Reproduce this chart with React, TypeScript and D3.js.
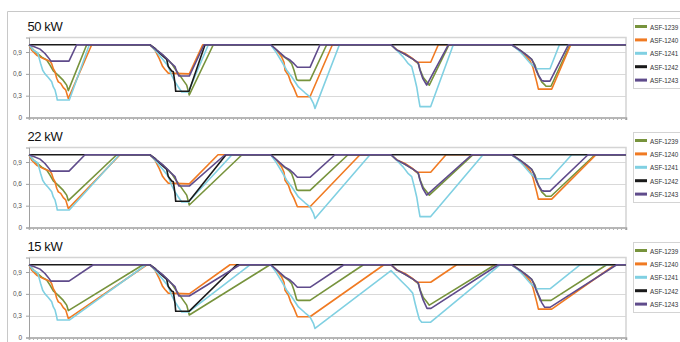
import React, { useRef, useEffect } from "react";
import * as d3 from "d3";

const seriesNames = ["ASF-1239", "ASF-1240", "ASF-1241", "ASF-1242", "ASF-1243"];
const seriesColors = ["#77933c", "#f07a22", "#80d0e2", "#1a1a1a", "#5f4b8b"];
const panelTitles = ["50 kW", "22 kW", "15 kW"];
const yTicks = [0, 0.3, 0.6, 0.9];
const cycleStarts = [0, 121, 241.7, 362, 482.7];
const timeEnd = 597;

// discharge profiles [dt, soc] per cycle (same for all three charger powers)
const dis1239 = [
  [[0, 1], [4.3, 0.93], [12.7, 0.83], [17.7, 0.79], [21, 0.72], [24.3, 0.64], [29.3, 0.58], [34.3, 0.51], [37.7, 0.445], [39.3, 0.37]],
  [[0, 1], [6.7, 0.925], [15, 0.83], [21.7, 0.74], [25, 0.67], [28.3, 0.61], [33.3, 0.51], [36.7, 0.445], [39.3, 0.31]],
  [[0, 1], [6, 0.925], [12.7, 0.84], [17.7, 0.79], [21, 0.74], [23.3, 0.65], [26, 0.52], [27.7, 0.51], [39.3, 0.51]],
  [[0, 1], [5.7, 0.93], [14, 0.87], [22.3, 0.8], [27.3, 0.74], [29, 0.66], [32.3, 0.55], [35.7, 0.49], [38.3, 0.445]],
  [[0, 1], [8.3, 0.925], [15, 0.856], [20, 0.8], [23.3, 0.72], [26.7, 0.58], [30, 0.49], [33.3, 0.445], [34.3, 0.43], [39.3, 0.43]],
];
const dis1240 = [
  [[0, 1], [2.7, 0.925], [7.7, 0.856], [14.3, 0.81], [21, 0.775], [22.7, 0.74], [24.3, 0.67], [26, 0.63], [27.7, 0.54], [29.3, 0.49], [31.7, 0.47], [34.3, 0.41], [36.7, 0.38], [39.3, 0.26]],
  [[0, 1], [5, 0.925], [9.3, 0.81], [12.7, 0.7], [15, 0.66], [18.3, 0.61], [39.3, 0.6]],
  [[0, 1], [6, 0.925], [11, 0.83], [13.3, 0.76], [14.3, 0.65], [17.7, 0.58], [20, 0.49], [23.3, 0.4], [26.7, 0.285], [39.3, 0.285]],
  [[0, 1], [5.7, 0.93], [14, 0.88], [20.7, 0.82], [25.7, 0.76], [39.7, 0.76]],
  [[0, 1], [8.3, 0.92], [14.3, 0.84], [18.3, 0.78], [21, 0.7], [22.7, 0.61], [25, 0.49], [26.7, 0.39], [40, 0.39]],
];
const dis1241 = [
  [[0, 1], [4.3, 0.925], [8.7, 0.89], [10.3, 0.81], [11.7, 0.74], [13.7, 0.65], [16, 0.6], [19.3, 0.55], [22.7, 0.49], [24.3, 0.42], [26, 0.38], [27.7, 0.285], [28.3, 0.24], [40.3, 0.24]],
  [[0, 1], [6.7, 0.9], [13.3, 0.79], [18.3, 0.7], [21.7, 0.58], [25, 0.49], [28.3, 0.42], [31.7, 0.35], [38.3, 0.35]],
  [[0, 1], [5.3, 0.9], [11, 0.77], [16, 0.65], [21, 0.56], [27.7, 0.42], [34.3, 0.34], [39.3, 0.285], [42.7, 0.195], [44.3, 0.125]],
  [[0, 1], [5.7, 0.925], [12.3, 0.83], [17.3, 0.74], [20.7, 0.7], [23.3, 0.56], [25.7, 0.42], [27.3, 0.285], [29, 0.15], [39.7, 0.15]],
  [[0, 1], [6.7, 0.925], [11.7, 0.856], [15.7, 0.79], [19, 0.74], [22.3, 0.7], [25, 0.67], [38.3, 0.67]],
];
const dis1242 = [
  null,
  [[0, 1], [5, 0.95], [6.7, 0.925], [13.3, 0.84], [16.7, 0.8], [18.3, 0.7], [21.7, 0.64], [23.3, 0.63], [25, 0.47], [25.7, 0.36], [39, 0.36]],
  null,
  null,
  null,
];
const dis1243 = [
  [[0, 1], [4, 0.98], [11, 0.94], [16, 0.88], [19, 0.83], [22, 0.775], [40, 0.775]],
  [[0, 1], [6.7, 0.925], [13.3, 0.856], [18.3, 0.79], [21.7, 0.74], [25, 0.7], [26.7, 0.63], [29, 0.57], [39.3, 0.57]],
  [[0, 1], [4.3, 0.95], [9.3, 0.89], [14.3, 0.83], [19.3, 0.79], [23.3, 0.74], [26.7, 0.69], [39.3, 0.69]],
  [[0, 1], [5.7, 0.93], [14, 0.87], [22.3, 0.8], [27.3, 0.75], [29, 0.65], [31.7, 0.54], [35.7, 0.445]],
  [[0, 1], [8.3, 0.925], [15, 0.856], [20, 0.8], [22.7, 0.72], [25, 0.63], [27.7, 0.56], [30, 0.51], [32.3, 0.5], [38.3, 0.5]],
];

// 15 kW cycles that differ: [series, cycle, profile]
const overrides15 = [
  [2, 3, [[0, 1], [10.7, 0.77], [17.3, 0.68], [21.7, 0.61], [24, 0.475], [26.3, 0.35], [28.3, 0.25], [30.7, 0.21], [39.7, 0.21]]],
  [4, 3, [[0, 1], [5.7, 0.93], [14, 0.87], [22.3, 0.8], [27.3, 0.75], [29, 0.65], [32, 0.52], [36, 0.4], [40, 0.4]]],
  [0, 4, [[0, 1], [8.3, 0.925], [15, 0.856], [20, 0.8], [23.3, 0.72], [26.7, 0.58], [28.5, 0.51], [39.3, 0.51]]],
  [4, 4, [[0, 1], [8.3, 0.925], [15, 0.856], [20, 0.8], [22.7, 0.72], [25, 0.63], [27.7, 0.56], [30, 0.48], [33, 0.415], [38.3, 0.415]]],
];

// time after cycle start when each series is full again (or [dt, soc])
const rise50 = [
  [57.7, 63.3, 56, 58, 58.3],
  [62.7, 52.7, 61.7, 47.3, 59],
  [60.3, 58.3, 68.7, 62.3, 47.7],
  [null, 55, null, null, null],
  [47.7, 54, 49.3, 57.3, 56.7],
];
const rise22 = [
  [87.7, 92, 77.3, 82, 83.3],
  [91, 68, 89.3, 55, 84.3],
  [90.3, 82, 99.3, 92, 60],
  [null, 76, null, null, null],
  [56, 75, 64.3, 80.7, 76.3],
];
const rise15 = [
  [114, 120, 92.7, 104, 95],
  [118, 80, 113.3, 65.7, 103.3],
  [117, 100, [120.3, 0.92], 109, 68.3],
  [null, 86.7, null, null, null],
  [64.3, 90, 73.3, 107.3, 105],
];

const discharge = [dis1239, dis1240, dis1241, dis1242, dis1243];
const panelRises = [rise50, rise22, rise15];
const panelOverrides = [[], [], overrides15];

const W = 680;
const H = 342;
const plotLeft = 29;
const plotRight = 626;
const plotTops = [37.5, 147.5, 257.5];
const plotH = 80;
const legendTops = [18, 132, 242];

function buildSeries(p, s) {
  const pts = [[0, 1]];
  cycleStarts.forEach((c, k) => {
    let prof = discharge[s][k];
    const ov = panelOverrides[p].find((o) => o[0] === s && o[1] === k);
    if (ov) prof = ov[2];
    if (!prof) return;
    const last = pts[pts.length - 1];
    const use = last[0] >= c - 0.01 && last[1] < 1 ? prof.slice(1) : prof;
    use.forEach(([dt, v]) => pts.push([c + dt, v]));
    const r = panelRises[p][s][k];
    if (Array.isArray(r)) pts.push([c + r[0], r[1]]);
    else pts.push([c + r, 1]);
  });
  pts.push([timeEnd, 1]);
  return pts;
}

const App = () => {
  const svgRef = useRef(null);

  useEffect(() => {
    const svg = d3.select(svgRef.current);
    svg.selectAll("*").remove();

    svg.append("rect").attr("width", W).attr("height", H).attr("fill", "#fff");

    // outer chart frame
    svg
      .append("path")
      .attr("d", `M7.5,${H}V11.5H${W}`)
      .attr("fill", "none")
      .attr("stroke", "#c8c8c8");

    const x = d3.scaleLinear().domain([0, timeEnd]).range([plotLeft, plotRight]);

    panelTitles.forEach((title, p) => {
      const top = plotTops[p];
      const y = d3.scaleLinear().domain([0, 1.1]).range([top + plotH, top]);
      const g = svg.append("g");

      // grid
      g.selectAll(".grid")
        .data(yTicks.filter((t) => t > 0))
        .enter()
        .append("line")
        .attr("x1", plotLeft)
        .attr("x2", plotRight)
        .attr("y1", (d) => Math.round(y(d)) + 0.5)
        .attr("y2", (d) => Math.round(y(d)) + 0.5)
        .attr("stroke", "#d9d9d9");

      // plot area border top + right
      g.append("path")
        .attr("d", `M${plotLeft},${top}H${plotRight}V${top + plotH}`)
        .attr("fill", "none")
        .attr("stroke", "#d4d4d4")
        .attr("stroke-width", 1.5);

      // x axis with dense ticks, no labels
      const xAxis = g
        .append("g")
        .attr("transform", `translate(0,${top + plotH})`)
        .call(
          d3
            .axisBottom(x)
            .tickValues(d3.range(0, timeEnd + 1, 4))
            .tickSize(2.5)
            .tickFormat(() => "")
        );
      xAxis.select(".domain").attr("stroke", "#a0a0a0").attr("stroke-width", 1.5);
      xAxis.selectAll(".tick line").attr("stroke", "#b4b4b4");

      // y axis
      const yAxis = g
        .append("g")
        .attr("transform", `translate(${plotLeft},0)`)
        .call(
          d3
            .axisLeft(y)
            .tickValues(yTicks)
            .tickSize(3)
            .tickPadding(4)
            .tickFormat((d) => (d === 0 ? "0" : d3.format(".1f")(d).replace(".", ",")))
        );
      yAxis.select(".domain").attr("stroke", "#a0a0a0");
      yAxis.selectAll(".tick line").attr("stroke", "#a0a0a0");
      yAxis
        .selectAll("text")
        .attr("fill", "#555")
        .style("font-size", "6.5px")
        .style("font-family", "Liberation Sans, Arial, sans-serif");

      // series lines
      const line = d3
        .line()
        .x((d) => x(d[0]))
        .y((d) => y(d[1]));

      seriesNames.forEach((name, s) => {
        g.append("path")
          .datum(buildSeries(p, s))
          .attr("fill", "none")
          .attr("stroke", seriesColors[s])
          .attr("stroke-width", 1.6)
          .attr("stroke-linejoin", "round")
          .attr("d", line);
      });

      // title
      g.append("text")
        .attr("x", 27.5)
        .attr("y", top - 6.5)
        .text(title)
        .style("font-size", "13px")
        .style("font-family", "Liberation Sans, Arial, sans-serif")
        .style("letter-spacing", "-0.4px")
        .attr("fill", "#111");

      // legend
      const lt = legendTops[p];
      g.append("rect")
        .attr("x", 633.5)
        .attr("y", lt + 0.5)
        .attr("width", 60)
        .attr("height", 70)
        .attr("fill", "#fff")
        .attr("stroke", "#d4d4d4");
      const items = g
        .selectAll(".legend")
        .data(seriesNames)
        .enter()
        .append("g")
        .attr("transform", (d, i) => `translate(635,${lt + 8.5 + i * 13.4})`);
      items
        .append("line")
        .attr("x1", 0)
        .attr("x2", 12)
        .attr("stroke", (d, i) => seriesColors[i])
        .attr("stroke-width", 3);
      items
        .append("text")
        .attr("transform", "translate(15,3) scale(0.84,1)")
        .text((d) => d)
        .style("font-size", "7.5px")
        .style("font-family", "Liberation Sans, Arial, sans-serif")
        .attr("fill", "#333");
    });
  }, []);

  return (
    <svg
      ref={svgRef}
      width={W}
      height={H}
      style={{ position: "absolute", left: 0, top: 0, background: "white" }}
    ></svg>
  );
};

export default App;
